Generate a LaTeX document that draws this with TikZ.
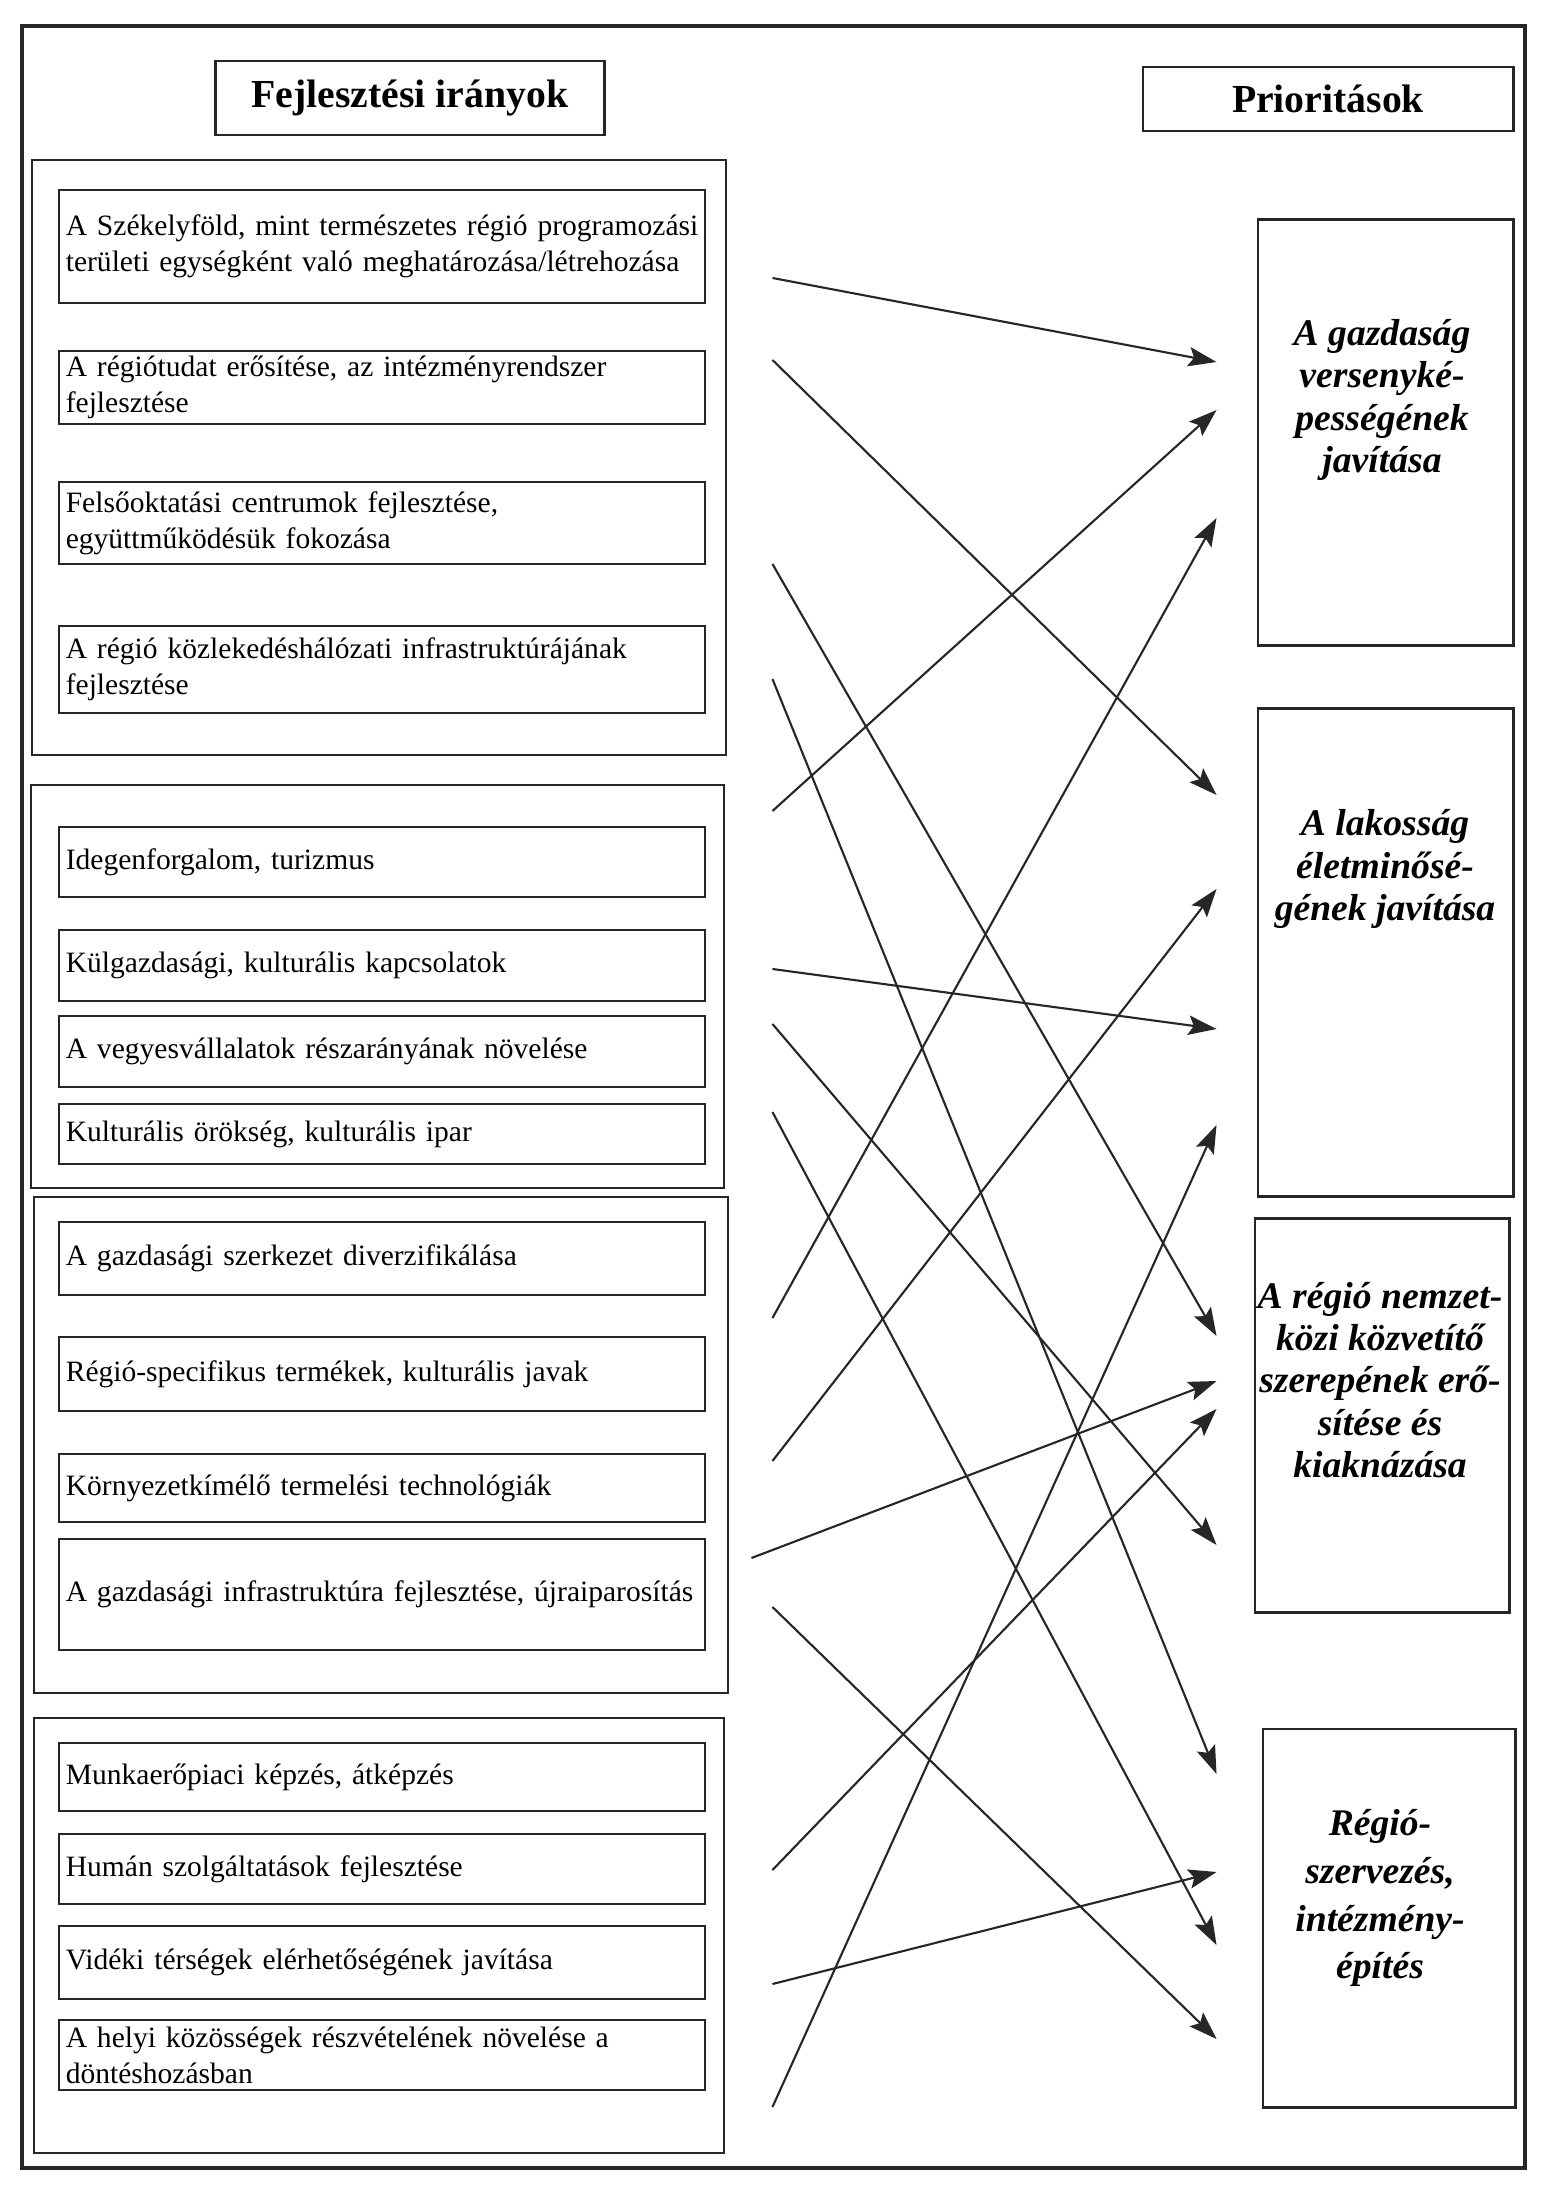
\documentclass[tikz,border=0pt]{standalone}
\usepackage{fontspec}
\setmainfont{Liberation Serif}
\usepackage{xcolor}
\usepackage{tikz}
\usetikzlibrary{positioning, calc, arrows.meta}

\tikzset{
  keret/.style={draw=tinta, line width=1.1pt},
  csoport/.style={draw=tinta, line width=0.7pt},
  fejlec/.style={draw=tinta, line width=0.8pt, inner sep=0pt, font=\fontsize{11.3}{13}\selectfont\bfseries},
  irany/.style={draw=tinta, line width=0.7pt, align=left, inner xsep=2pt, inner ysep=0pt, text width=6.32cm, font=\fontsize{8.4}{10.2}\selectfont},
  prior/.style={draw=tinta, line width=0.8pt, inner sep=0pt},
  ptext/.style={align=center, inner sep=0pt, font=\fontsize{10.7}{12}\selectfont\bfseries\itshape},
  nyil/.style={->, >={Stealth[length=8pt, width=5.5pt, inset=1.5pt]}, draw=tinta, line width=0.6pt}
}

\begin{document}
\begin{tikzpicture}[x=0.01cm, y=-0.01cm]
% --- SZINEK ES KERET ---
\definecolor{tinta}{HTML}{262626}
\definecolor{papir}{HTML}{FFFFFF}

\useasboundingbox (0,0) rectangle (1556,2189);
\fill[papir] (0,0) rectangle (1556,2189);

% LAYER 1: Kulso keret es csoportok
\draw[keret] (22,26) rectangle (1525,2168);
\draw[csoport] (32,160) rectangle (726,755);
\draw[csoport] (31,785) rectangle (724,1188);
\draw[csoport] (34,1197) rectangle (728,1693);
\draw[csoport] (34,1718) rectangle (724,2153);

% LAYER 2: Fejlecek
\node[fejlec, minimum width=3.88cm, minimum height=0.74cm] (fejl) at (410,98) {Fejlesztési irányok};
\node[fejlec, minimum width=3.70cm, minimum height=0.64cm] (prio) at (1328,99) {Prioritások};

% LAYER 3: Fejlesztesi iranyok
\node[irany, minimum height=1.13cm] (b1) at (382,246.5) {\mbox{A Székelyföld, mint természetes régió programozási}\\területi egységként való meghatározása/létrehozása};
\node[irany, minimum height=0.73cm] (b2) at (382,387.5) {A régiótudat erősítése, az intézményrendszer\\fejlesztése};
\node[irany, minimum height=0.82cm] (b3) at (382,523) {Felsőoktatási centrumok fejlesztése,\\együttműködésük fokozása};
\node[irany, minimum height=0.87cm] (b4) at (382,669.5) {A régió közlekedéshálózati infrastruktúrájának\\fejlesztése};

\node[irany, minimum height=0.70cm] (b5) at (382,862) {Idegenforgalom, turizmus};
\node[irany, minimum height=0.71cm] (b6) at (382,965.5) {Külgazdasági, kulturális kapcsolatok};
\node[irany, minimum height=0.71cm] (b7) at (382,1051.5) {A vegyesvállalatok részarányának növelése};
\node[irany, minimum height=0.60cm] (b8) at (382,1134) {Kulturális örökség, kulturális ipar};

\node[irany, minimum height=0.73cm] (b9) at (382,1258.5) {A gazdasági szerkezet diverzifikálása};
\node[irany, minimum height=0.74cm] (b10) at (382,1374) {Régió-specifikus termékek, kulturális javak};
\node[irany, minimum height=0.68cm] (b11) at (382,1488) {Környezetkímélő termelési technológiák};
\node[irany, minimum height=1.11cm] (b12) at (382,1594.5) {\mbox{A gazdasági infrastruktúra fejlesztése, újraiparosítás}};

\node[irany, minimum height=0.68cm] (b13) at (382,1777) {Munkaerőpiaci képzés, átképzés};
\node[irany, minimum height=0.70cm] (b14) at (382,1869) {Humán szolgáltatások fejlesztése};
\node[irany, minimum height=0.73cm] (b15) at (382,1962.5) {Vidéki térségek elérhetőségének javítása};
\node[irany, minimum height=0.70cm] (b16) at (382,2055) {A helyi közösségek részvételének növelése a\\döntéshozásban};

% LAYER 4: Prioritasok
\node[prior, minimum width=2.55cm, minimum height=4.25cm] (p1) at (1385.5,432.5) {};
\node[ptext] (p1t) at (1382,400) {A gazdaság\\versenyké-\\pességének\\javítása};
\node[prior, minimum width=2.55cm, minimum height=4.87cm] (p2) at (1385.5,952.5) {};
\node[ptext] (p2t) at (1385,869) {A lakosság\\életminősé-\\gének javítása};
\node[prior, minimum width=2.54cm, minimum height=3.93cm] (p3) at (1382,1415.5) {};
\node[ptext] (p3t) at (1380,1380) {A régió nemzet-\\közi közvetítő\\szerepének erő-\\sítése és\\kiaknázása};
\node[prior, minimum width=2.52cm, minimum height=3.78cm] (p4) at (1389,1918) {};
\node[ptext, font=\fontsize{10.7}{13.6}\selectfont\bfseries\itshape] (p4t) at (1380,1898) {Régió-\\szervezés,\\intézmény-\\építés};

% LAYER 5: Nyilak
\draw[nyil] ($(b1.east)+(66,31.5)$) -- ($(p1.west)+(-40,-70.5)$);
\draw[nyil] ($(b2.east)+(66,-27.5)$) -- ($(p2.west)+(-40,-157.5)$);
\draw[nyil] ($(b3.east)+(66,41)$) -- ($(p3.west)+(-37,-79.5)$);
\draw[nyil] ($(b4.east)+(66,9.5)$) -- ($(p4.west)+(-45,-144)$);
\draw[nyil] ($(b5.east)+(66,-51)$) -- ($(p1.west)+(-40,-22.5)$);
\draw[nyil] ($(b6.east)+(66,3.5)$) -- ($(p2.west)+(-40,76.5)$);
\draw[nyil] ($(b7.east)+(66,-27.5)$) -- ($(p3.west)+(-37,129.5)$);
\draw[nyil] ($(b8.east)+(66,-22)$) -- ($(p4.west)+(-45,27)$);
\draw[nyil] ($(b10.east)+(66,-56)$) -- ($(p1.west)+(-40,85.5)$);
\draw[nyil] ($(b11.east)+(66,-27)$) -- ($(p2.west)+(-40,-63.5)$);
\draw[nyil] ($(b12.east)+(45,-36.5)$) -- ($(p3.west)+(-37,-34.5)$);
\draw[nyil] ($(b12.east)+(66,12.5)$) -- ($(p4.west)+(-45,121)$);
\draw[nyil] ($(b14.east)+(66,1)$) -- ($(p3.west)+(-37,-6.5)$);
\draw[nyil] ($(b15.east)+(66,21.5)$) -- ($(p4.west)+(-45,-46)$);
\draw[nyil] ($(b16.east)+(66,52)$) -- ($(p2.west)+(-40,172.5)$);
\end{tikzpicture}
\end{document}
